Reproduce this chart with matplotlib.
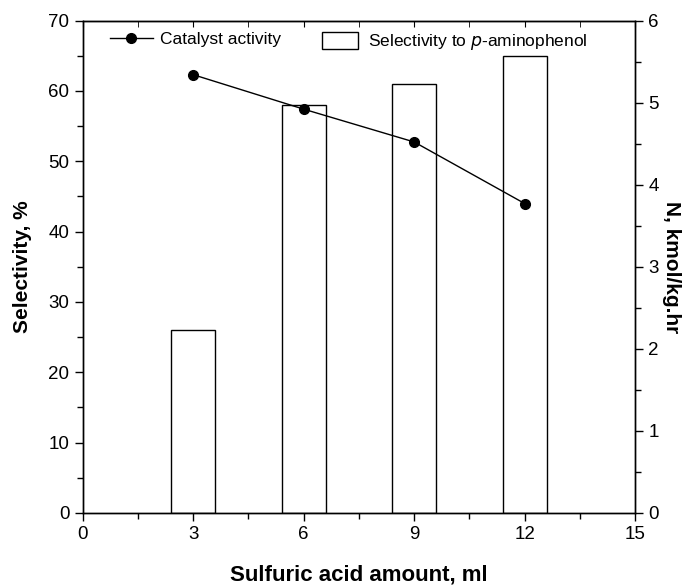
import matplotlib.pyplot as plt
from matplotlib.ticker import MultipleLocator
from matplotlib.patches import Patch
from matplotlib.lines import Line2D

plt.rcParams['font.family'] = ['Liberation Sans', 'DejaVu Sans']

# datos
acido_ml = [3, 6, 9, 12]
selectividad = [26, 58, 61, 65]
actividad = [5.34, 4.92, 4.52, 3.77]

fig = plt.figure(figsize=(6.86, 5.86), dpi=100)
ax = fig.add_axes([0.1205, 0.1246, 0.8055, 0.8404])

ax.bar(acido_ml, selectividad, width=1.2, color='white', edgecolor='black', linewidth=1.0, zorder=2)
ax.set_xlim(0, 15)
ax.set_ylim(0, 70)
ax.xaxis.set_major_locator(MultipleLocator(3))
ax.xaxis.set_minor_locator(MultipleLocator(1.5))
ax.yaxis.set_major_locator(MultipleLocator(10))
ax.yaxis.set_minor_locator(MultipleLocator(5))
ax.tick_params(axis='both', which='major', direction='out', length=6, width=1, labelsize=13.5)
ax.tick_params(axis='both', which='minor', direction='out', length=4, width=1)
ax.tick_params(axis='y', right=False)
ax.set_xlabel('Sulfuric acid amount, ml', fontsize=16, fontweight='bold', labelpad=15)
ax.set_ylabel('Selectivity, %', fontsize=15, fontweight='bold', labelpad=12)

ax2 = ax.twinx()
ax2.plot(acido_ml, actividad, color='black', marker='o', markersize=7, linewidth=1.0, zorder=3)
ax2.set_ylim(0, 6)
ax2.yaxis.set_major_locator(MultipleLocator(1))
ax2.yaxis.set_minor_locator(MultipleLocator(0.5))
ax2.tick_params(axis='y', which='major', direction='out', length=6, width=1, labelsize=13.5)
ax2.tick_params(axis='y', which='minor', direction='out', length=4, width=1)
ax2.set_ylabel('N, kmol/kg.hr', fontsize=15, fontweight='bold', rotation=270, va='bottom', labelpad=2)

# marcas en el eje superior
axt = ax.secondary_xaxis('top')
axt.xaxis.set_major_locator(MultipleLocator(3))
axt.xaxis.set_minor_locator(MultipleLocator(1.5))
axt.tick_params(which='both', direction='in', length=4, labeltop=False)

for a in (ax, ax2):
    for s in a.spines.values():
        s.set_linewidth(1.0)

# leyenda en dos partes
leg1 = ax2.legend([Line2D([], [], color='black', marker='o', markersize=7, linewidth=1.0)],
                  ['Catalyst activity'], frameon=False, loc='upper left',
                  bbox_to_anchor=(0.049, 0.977), borderpad=0, borderaxespad=0,
                  fontsize=12.5, handlelength=2.5, handletextpad=0.4)
ax2.add_artist(leg1)
ax2.legend([Patch(facecolor='white', edgecolor='black', linewidth=1.0)],
           ['Selectivity to $\\it{p}$-aminophenol'], frameon=False, loc='upper left',
           bbox_to_anchor=(0.434, 0.977), borderpad=0, borderaxespad=0,
           fontsize=12.5, handlelength=2.05, handleheight=1.1, handletextpad=0.58)

fig.savefig('out.png', dpi=100)
